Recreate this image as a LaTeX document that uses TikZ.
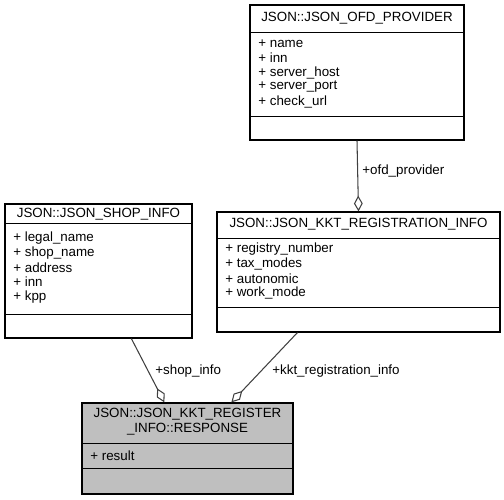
\documentclass[tikz,border=0pt]{standalone}
\usepackage{fontspec}
\setmainfont{Liberation Sans}
\usetikzlibrary{arrows.meta}
\definecolor{edgegray}{HTML}{404040}
\definecolor{boxgray}{HTML}{BFBFBF}
\begin{document}
\begin{tikzpicture}[x=0.02cm,y=-0.02cm,font=\fontsize{7.6}{9}\selectfont]
            \tikzstyle{classbox}=[draw=black,line width=0.7pt,inner sep=0,anchor=center]
            \tikzstyle{aggr}=[draw=edgegray,line width=0.6pt,-{Diamond[open,length=9pt,width=5pt]}]
            \tikzstyle{attr}=[anchor=west,inner sep=0]

            \useasboundingbox (0,0) rectangle (504,500);

            %ofd_provider
            \node[classbox,minimum width=4.28cm,minimum height=2.7cm] (ofd) at (357,72.5) {};
            \draw (ofd.west |- 0,32)--(ofd.east |- 0,32);
            \draw (ofd.west |- 0,116)--(ofd.east |- 0,116);
            \draw (357,18.5) node {JSON::JSON\_OFD\_PROVIDER};
            \node[attr] at (258,43.5) {+ name};
            \node[attr] at (258,58) {+ inn};
            \node[attr] at (258,72.5) {+ server\_host};
            \node[attr] at (258,87) {+ server\_port};
            \node[attr] at (258,101.5) {+ check\_url};

            %kkt_registration_info
            \node[classbox,minimum width=5.66cm,minimum height=2.4cm] (kkt) at (358.5,272) {};
            \draw (kkt.west |- 0,238)--(kkt.east |- 0,238);
            \draw (kkt.west |- 0,307)--(kkt.east |- 0,307);
            \draw (358.5,224.5) node {JSON::JSON\_KKT\_REGISTRATION\_INFO};
            \node[attr] at (225,249) {+ registry\_number};
            \node[attr] at (225,263.5) {+ tax\_modes};
            \node[attr] at (225,278.5) {+ autonomic};
            \node[attr] at (225,293) {+ work\_mode};

            %shop_info
            \node[classbox,minimum width=3.74cm,minimum height=2.68cm] (shop) at (98.5,271) {};
            \draw (shop.west |- 0,223)--(shop.east |- 0,223);
            \draw (shop.west |- 0,314)--(shop.east |- 0,314);
            \draw (98.5,214.5) node {JSON::JSON\_SHOP\_INFO};
            \node[attr] at (13,238.5) {+ legal\_name};
            \node[attr] at (13,253) {+ shop\_name};
            \node[attr] at (13,267.5) {+ address};
            \node[attr] at (13,282) {+ inn};
            \node[attr] at (13,297) {+ kpp};

            %response
            \node[classbox,fill=boxgray,minimum width=4.22cm,minimum height=1.82cm] (resp) at (187.5,448.5) {};
            \draw (resp.west |- 0,443)--(resp.east |- 0,443);
            \draw (resp.west |- 0,468)--(resp.east |- 0,468);
            \draw (187.5,414.5) node {JSON::JSON\_KKT\_REGISTER};
            \draw (187.5,429.5) node {\_INFO::RESPONSE};
            \node[attr] at (90,455.5) {+ result};

            %aggregations
            \draw[aggr] (ofd.south)--(kkt.north);
            \draw[aggr] ([xshift=2.54cm]shop.south west)--([xshift=1.66cm]resp.north west);
            \draw[aggr] ([xshift=1.62cm]kkt.south west)--([xshift=3.0cm]resp.north west);

            \node[attr] at (362,171.5) {+ofd\_provider};
            \node[attr] at (155,371.5) {+shop\_info};
            \node[attr] at (272,371.5) {+kkt\_registration\_info};

\end{tikzpicture}
\end{document}
